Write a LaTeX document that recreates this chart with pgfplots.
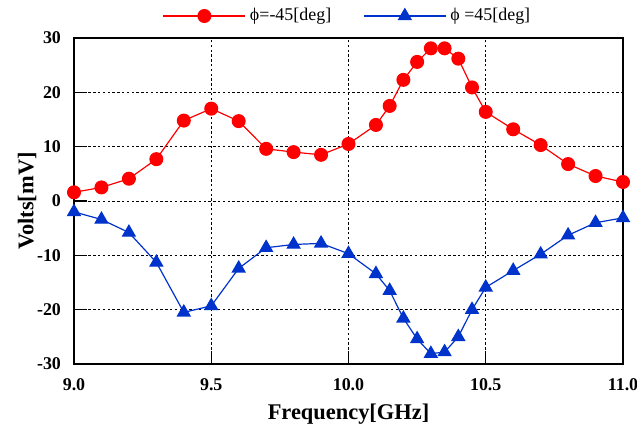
\documentclass[border=0pt]{standalone}
\usepackage{fontspec}
\setmainfont{Liberation Serif}
\usepackage{pgfplots}
\pgfplotsset{compat=1.18}
\definecolor{rd}{RGB}{255,0,0}
\definecolor{bl}{RGB}{0,51,204}
\begin{document}
\begin{tikzpicture}
\begin{axis}[
  at={(0,0)}, anchor=south west,
  scale only axis,
  width=274.5bp, height=163bp,
  xmin=9, xmax=11, ymin=-30, ymax=30,
  xtick={9,9.5,10,10.5,11},
  ytick={-30,-20,-10,0,10,20,30},
  xticklabel style={/pgf/number format/.cd, fixed, fixed zerofill, precision=1, /tikz/.cd, yshift=-4bp},
  yticklabel style={xshift=-3bp},
  /pgf/number format/assume math mode=true,
  ticklabel style={font=\bfseries\fontsize{9}{10}\selectfont},
  xtick pos=bottom, ytick pos=left,
  tick align=inside,
  major tick length=6.5bp,
  tick style={black, line width=0.6bp},
  axis line style={black, line width=0.8bp},
  grid=major,
  major grid style={black, line width=0.5bp, dash pattern=on 1.2bp off 1.2bp},
  xlabel={Frequency[GHz]},
  ylabel={Volts[mV]},
  label style={font=\bfseries\fontsize{11.25}{12}\selectfont},
  xlabel style={at={(0.5,0)}, anchor=center, yshift=-25bp},
  ylabel style={at={(0,0.5)}, anchor=center, yshift=23.5bp},
  legend columns=2,
  legend style={draw=none, fill=none, at={(0.5,1)}, anchor=center, yshift=11bp,
    font=\fontsize{9}{10}\selectfont,
    /tikz/every even column/.append style={column sep=14bp}},
  legend image code/.code={\draw[mark repeat=2,mark phase=2,#1] plot coordinates {(0bp,0bp) (20.5bp,0bp) (41bp,0bp)};},
  clip=false,
]
\addplot[rd, line width=0.6bp, mark=*, mark size=3.2bp, mark options={solid, fill=rd, draw=rd}] coordinates {
  (9.0,1.6) (9.1,2.5) (9.2,4.1) (9.3,7.7) (9.4,14.8) (9.5,17.0) (9.6,14.7)
  (9.7,9.6) (9.8,9.0) (9.9,8.5) (10.0,10.5) (10.1,14.0) (10.15,17.5)
  (10.2,22.3) (10.25,25.6) (10.3,28.1) (10.35,28.1) (10.4,26.2) (10.45,20.9)
  (10.5,16.4) (10.6,13.2) (10.7,10.3) (10.8,6.8) (10.9,4.6) (11.0,3.5)
};
\addlegendentry{ϕ=-45[deg]}
\addplot[bl, line width=0.6bp, mark=triangle*, mark size=3.6bp, mark options={solid, fill=bl, draw=bl}] coordinates {
  (9.0,-2.0) (9.1,-3.4) (9.2,-5.8) (9.3,-11.3) (9.4,-20.5) (9.5,-19.3) (9.6,-12.4)
  (9.7,-8.6) (9.8,-8.0) (9.9,-7.8) (10.0,-9.7) (10.1,-13.4) (10.15,-16.5)
  (10.2,-21.6) (10.25,-25.4) (10.3,-28.1) (10.35,-27.8) (10.4,-25.0) (10.45,-20.0)
  (10.5,-15.9) (10.6,-12.8) (10.7,-9.8) (10.8,-6.3) (10.9,-4.0) (11.0,-3.1)
};
\addlegendentry{ϕ =45[deg]}
\end{axis}
\pgfresetboundingbox
\path[use as bounding box] (-37bp,-32bp) rectangle (281.5bp,182bp);
\end{tikzpicture}
\end{document}
